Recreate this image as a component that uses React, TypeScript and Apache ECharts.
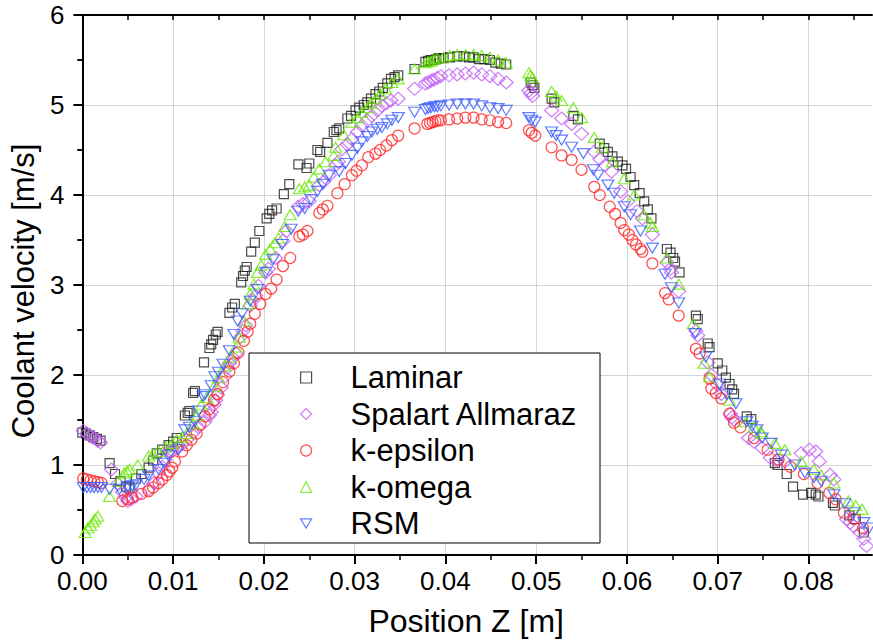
import React, { useEffect, useRef } from "react";
import * as echarts from "echarts";

// ---------- data (Position Z [m], Coolant velocity [m/s]) ----------
const seriesNames = ["Laminar", "Spalart Allmaraz", "k-epsilon", "k-omega", "RSM"];

const laminar: number[][] = [
  [0.0000,1.36],[0.0004,1.35],[0.0008,1.33],[0.0012,1.31],[0.0016,1.29],[0.0020,1.27],
  [0.0030,1.02],[0.0036,0.90],[0.0042,0.82],[0.0048,0.76],[0.0052,0.74],[0.0059,0.85],[0.0065,0.90],
  [0.0073,0.97],[0.0078,1.05],[0.0082,1.13],[0.0088,1.17],[0.0095,1.22],[0.0100,1.26],[0.0104,1.30],
  [0.0113,1.55],[0.0116,1.58],[0.0118,1.60],[0.0122,1.80],[0.0124,1.82],
  [0.0134,2.14],[0.0140,2.30],[0.0142,2.34],[0.0144,2.39],[0.0147,2.45],[0.0149,2.48],
  [0.0162,2.69],[0.0165,2.75],[0.0168,2.79],
  [0.0175,3.03],[0.0177,3.10],[0.0179,3.16],[0.0181,3.20],
  [0.0186,3.37],[0.0190,3.47],[0.0195,3.60],
  [0.0203,3.74],[0.0206,3.79],[0.0209,3.83],
  [0.0214,3.85],[0.0222,4.01],[0.0228,4.12],
  [0.0238,4.34],[0.0247,4.30],[0.0250,4.35],
  [0.0259,4.50],[0.0262,4.48],
  [0.0270,4.58],[0.0277,4.70],[0.0280,4.72],[0.0283,4.74],
  [0.0292,4.85],[0.0296,4.88],[0.0301,4.94],[0.0305,4.97],[0.0310,5.00],[0.0314,5.03],[0.0318,5.07],
  [0.0323,5.12],[0.0327,5.15],[0.0331,5.19],[0.0336,5.24],[0.0340,5.29],[0.0344,5.31],[0.0348,5.33],
  [0.0366,5.40],
  [0.0378,5.48],[0.0381,5.49],[0.0384,5.50],[0.0387,5.50],[0.0390,5.51],[0.0393,5.52],[0.0398,5.52],
  [0.0405,5.53],[0.0413,5.54],[0.0420,5.54],[0.0426,5.53],[0.0431,5.53],[0.0437,5.51],[0.0443,5.51],
  [0.0449,5.50],[0.0455,5.47],[0.0461,5.46],[0.0467,5.45],
  [0.0494,5.25],[0.0496,5.22],[0.0498,5.19],
  [0.0517,5.07],[0.0520,5.03],
  [0.0541,4.88],[0.0546,4.84],
  [0.0570,4.57],[0.0575,4.52],[0.0579,4.48],[0.0584,4.43],[0.0590,4.37],[0.0595,4.33],[0.0599,4.29],
  [0.0604,4.20],[0.0608,4.11],[0.0614,4.02],[0.0619,3.93],[0.0623,3.84],[0.0627,3.74],
  [0.0644,3.40],[0.0648,3.36],[0.0651,3.30],[0.0653,3.26],[0.0658,3.14],
  [0.0676,2.66],[0.0678,2.62],
  [0.0689,2.35],[0.0691,2.31],
  [0.0700,2.13],[0.0705,2.05],[0.0709,1.97],[0.0713,1.90],[0.0716,1.84],[0.0718,1.79],
  [0.0732,1.54],[0.0737,1.51],
  [0.0763,1.02],[0.0766,1.00],[0.0776,0.90],[0.0783,0.76],[0.0794,0.67],[0.0803,0.69],[0.0808,0.67],
  [0.0811,0.65],[0.0827,0.58],[0.0829,0.55],
  [0.0845,0.44],[0.0852,0.40],[0.0861,0.25],
];

const spalartAllmaraz: number[][] = [
  [0.0001,1.38],[0.0005,1.35],[0.0009,1.32],[0.0013,1.30],[0.0017,1.27],[0.0020,1.25],
  [0.0032,0.95],[0.0039,0.79],[0.0044,0.70],[0.0048,0.64],[0.0050,0.60],[0.0054,0.62],[0.0059,0.65],
  [0.0073,0.73],[0.0079,0.80],[0.0084,0.91],[0.0088,0.98],[0.0091,1.06],[0.0095,1.15],[0.0099,1.16],
  [0.0104,1.19],[0.0110,1.23],[0.0115,1.28],[0.0122,1.36],[0.0128,1.42],[0.0135,1.48],[0.0140,1.55],
  [0.0142,1.59],[0.0145,1.67],[0.0147,1.72],[0.0149,1.78],[0.0153,1.86],[0.0157,1.98],[0.0160,2.08],
  [0.0162,2.13],[0.0166,2.19],[0.0169,2.24],[0.0174,2.42],[0.0177,2.49],[0.0180,2.55],[0.0185,2.77],
  [0.0188,2.83],[0.0191,2.88],[0.0194,2.99],[0.0202,3.14],[0.0205,3.18],[0.0213,3.30],[0.0221,3.49],
  [0.0225,3.60],[0.0238,3.87],[0.0243,3.90],[0.0250,3.93],[0.0261,4.11],[0.0266,4.15],[0.0272,4.22],
  [0.0279,4.33],[0.0282,4.37],[0.0286,4.51],[0.0292,4.56],[0.0297,4.62],[0.0303,4.70],[0.0308,4.77],
  [0.0314,4.83],[0.0319,4.88],[0.0325,4.94],[0.0330,4.99],[0.0335,5.02],[0.0340,5.05],[0.0348,5.07],
  [0.0366,5.18],[0.0378,5.24],[0.0381,5.25],[0.0384,5.27],[0.0387,5.28],[0.0391,5.30],[0.0395,5.32],
  [0.0404,5.33],[0.0413,5.34],[0.0422,5.35],[0.0431,5.36],[0.0440,5.34],[0.0449,5.32],[0.0458,5.29],
  [0.0467,5.25],
  [0.0492,5.16],[0.0494,5.13],[0.0496,5.10],
  [0.0517,4.94],[0.0528,4.85],[0.0539,4.79],[0.0550,4.68],[0.0564,4.48],[0.0570,4.40],[0.0576,4.33],
  [0.0583,4.26],[0.0593,4.04],[0.0601,3.93],[0.0611,3.82],[0.0617,3.74],[0.0628,3.56],[0.0644,3.25],
  [0.0648,3.18],[0.0649,3.14],[0.0657,2.93],[0.0676,2.49],[0.0678,2.44],[0.0689,2.14],[0.0693,2.00],
  [0.0700,1.89],[0.0704,1.79],[0.0714,1.57],[0.0716,1.53],[0.0718,1.50],[0.0734,1.30],[0.0740,1.26],
  [0.0749,1.19],[0.0758,1.08],[0.0765,1.05],[0.0774,1.04],[0.0792,1.13],[0.0801,1.17],[0.0808,1.15],
  [0.0812,1.04],[0.0824,0.89],[0.0828,0.84],[0.0842,0.40],[0.0846,0.36],[0.0850,0.32],[0.0857,0.25],
  [0.0861,0.18],[0.0864,0.10],
];

const kEpsilon: number[][] = [
  [0.0001,0.85],[0.0005,0.84],[0.0009,0.83],[0.0013,0.82],[0.0017,0.81],[0.0021,0.80],
  [0.0044,0.60],[0.0050,0.62],[0.0055,0.64],[0.0065,0.68],[0.0073,0.71],[0.0078,0.75],[0.0084,0.80],
  [0.0088,0.84],[0.0093,0.89],[0.0096,0.93],[0.0099,0.97],[0.0102,1.04],[0.0110,1.15],[0.0115,1.22],
  [0.0120,1.28],[0.0126,1.35],[0.0130,1.45],[0.0135,1.54],[0.0140,1.62],[0.0145,1.72],[0.0149,1.79],
  [0.0155,1.92],[0.0162,2.04],[0.0167,2.13],[0.0172,2.25],[0.0178,2.38],[0.0182,2.48],[0.0185,2.57],
  [0.0190,2.68],[0.0196,2.79],[0.0202,2.90],[0.0208,2.96],[0.0214,3.06],[0.0221,3.21],[0.0229,3.30],
  [0.0239,3.54],[0.0243,3.56],[0.0248,3.60],[0.0261,3.80],[0.0265,3.84],[0.0270,3.88],[0.0281,4.02],
  [0.0289,4.12],[0.0297,4.22],[0.0302,4.27],[0.0308,4.33],[0.0315,4.42],[0.0323,4.46],[0.0328,4.50],
  [0.0335,4.55],[0.0341,4.61],[0.0348,4.66],[0.0366,4.74],[0.0380,4.79],[0.0383,4.80],[0.0386,4.81],
  [0.0389,4.82],[0.0392,4.83],[0.0395,4.83],[0.0404,4.84],[0.0413,4.85],[0.0422,4.86],[0.0431,4.86],
  [0.0440,4.84],[0.0449,4.83],[0.0458,4.81],[0.0467,4.80],
  [0.0492,4.72],[0.0495,4.69],[0.0499,4.66],
  [0.0517,4.53],[0.0528,4.44],[0.0539,4.39],[0.0550,4.28],[0.0564,4.09],[0.0570,4.00],[0.0581,3.87],
  [0.0587,3.79],[0.0593,3.69],[0.0597,3.61],[0.0602,3.56],[0.0606,3.50],[0.0610,3.45],[0.0615,3.40],
  [0.0617,3.37],[0.0628,3.24],[0.0642,2.91],[0.0646,2.84],[0.0657,2.66],[0.0676,2.29],[0.0680,2.24],
  [0.0691,1.96],[0.0693,1.85],[0.0698,1.80],[0.0704,1.74],[0.0713,1.57],[0.0718,1.47],[0.0725,1.42],
  [0.0740,1.30],[0.0755,1.17],[0.0767,1.06],[0.0780,0.98],[0.0795,0.90],[0.0810,0.80],[0.0823,0.69],
  [0.0830,0.62],[0.0839,0.47],[0.0850,0.40],[0.0860,0.30],
];

const kOmega: number[][] = [
  [0.0003,0.25],[0.0006,0.30],[0.0009,0.33],[0.0012,0.37],[0.0014,0.40],[0.0017,0.43],
  [0.0030,0.65],[0.0040,0.82],[0.0046,0.91],[0.0049,0.93],[0.0052,0.95],[0.0061,1.00],[0.0073,1.10],
  [0.0078,1.12],[0.0084,1.15],[0.0092,1.20],[0.0099,1.24],[0.0104,1.28],[0.0110,1.31],[0.0115,1.35],
  [0.0122,1.46],[0.0126,1.55],[0.0131,1.67],[0.0137,1.75],[0.0145,1.87],[0.0150,1.97],[0.0157,2.10],
  [0.0163,2.20],[0.0169,2.31],[0.0173,2.42],[0.0178,2.60],[0.0182,2.79],[0.0185,2.90],[0.0189,3.01],
  [0.0193,3.14],[0.0197,3.22],[0.0202,3.34],[0.0207,3.40],[0.0212,3.47],[0.0216,3.52],[0.0223,3.65],
  [0.0229,3.78],[0.0239,4.07],[0.0245,4.09],[0.0250,4.11],[0.0255,4.20],[0.0261,4.29],[0.0268,4.37],
  [0.0277,4.44],[0.0279,4.53],[0.0288,4.67],[0.0297,4.81],[0.0303,4.86],[0.0308,4.92],[0.0314,4.97],
  [0.0318,5.02],[0.0323,5.07],[0.0328,5.12],[0.0334,5.18],[0.0341,5.25],[0.0348,5.29],[0.0366,5.40],
  [0.0378,5.47],[0.0381,5.48],[0.0384,5.49],[0.0387,5.51],[0.0391,5.52],[0.0398,5.53],[0.0405,5.55],
  [0.0413,5.56],[0.0422,5.56],[0.0431,5.56],[0.0440,5.55],[0.0449,5.53],[0.0458,5.50],[0.0467,5.47],
  [0.0492,5.36],[0.0494,5.33],[0.0496,5.30],
  [0.0517,5.15],[0.0522,5.10],[0.0528,5.05],[0.0541,4.97],[0.0550,4.86],[0.0564,4.64],[0.0573,4.53],
  [0.0584,4.37],[0.0597,4.18],[0.0608,4.00],[0.0619,3.78],[0.0626,3.69],[0.0628,3.65],[0.0644,3.30],
  [0.0657,3.01],[0.0673,2.57],[0.0685,2.13],[0.0691,1.98],[0.0713,1.72],[0.0731,1.48],[0.0740,1.42],
  [0.0747,1.37],[0.0749,1.35],[0.0763,1.24],[0.0774,1.17],[0.0792,1.04],[0.0806,0.95],[0.0814,0.89],
  [0.0828,0.80],[0.0844,0.60],[0.0852,0.55],[0.0859,0.51],
];

const rsm: number[][] = [
  [0.0001,0.75],[0.0005,0.75],[0.0009,0.75],[0.0013,0.75],[0.0017,0.75],[0.0021,0.75],
  [0.0030,0.73],[0.0041,0.73],[0.0050,0.76],[0.0055,0.77],[0.0059,0.78],[0.0068,0.84],[0.0073,0.88],
  [0.0084,0.95],[0.0090,1.02],[0.0095,1.10],[0.0106,1.17],[0.0113,1.39],[0.0118,1.42],[0.0124,1.48],
  [0.0128,1.60],[0.0133,1.76],[0.0135,1.78],[0.0142,1.88],[0.0146,1.98],[0.0150,2.03],[0.0155,2.12],
  [0.0162,2.27],[0.0167,2.45],[0.0171,2.60],[0.0176,2.68],[0.0185,2.82],[0.0193,2.95],[0.0202,3.14],
  [0.0210,3.28],[0.0220,3.45],[0.0230,3.62],[0.0238,3.82],[0.0245,3.85],[0.0252,3.95],[0.0259,4.04],
  [0.0265,4.12],[0.0272,4.22],[0.0283,4.26],[0.0290,4.35],[0.0297,4.44],[0.0303,4.52],[0.0308,4.59],
  [0.0314,4.65],[0.0319,4.70],[0.0325,4.73],[0.0330,4.75],[0.0336,4.79],[0.0341,4.83],[0.0348,4.86],
  [0.0366,4.92],[0.0378,4.95],[0.0381,4.96],[0.0384,4.97],[0.0388,4.98],[0.0391,4.98],[0.0395,4.99],
  [0.0404,5.00],[0.0413,5.01],[0.0422,5.01],[0.0431,5.01],[0.0440,4.99],[0.0449,4.97],[0.0458,4.96],
  [0.0467,4.94],
  [0.0492,4.86],[0.0495,4.83],[0.0499,4.81],
  [0.0517,4.70],[0.0522,4.66],[0.0528,4.61],[0.0539,4.53],[0.0552,4.46],[0.0563,4.28],[0.0568,4.22],
  [0.0579,4.11],[0.0586,4.02],[0.0597,3.87],[0.0604,3.78],[0.0615,3.60],[0.0628,3.41],[0.0642,3.12],
  [0.0649,2.97],[0.0657,2.80],[0.0675,2.46],[0.0687,2.20],[0.0702,1.90],[0.0710,1.78],[0.0720,1.68],
  [0.0732,1.48],[0.0738,1.43],[0.0743,1.39],[0.0749,1.30],[0.0759,1.24],[0.0770,1.11],[0.0785,1.00],
  [0.0796,0.91],[0.0806,0.86],[0.0814,0.82],[0.0828,0.67],[0.0840,0.57],[0.0850,0.47],[0.0861,0.36],
  [0.0867,0.30],
];

const xMajorTicks = [0, 0.01, 0.02, 0.03, 0.04, 0.05, 0.06, 0.07, 0.08];
const xMinorTicks = [0.005, 0.015, 0.025, 0.035, 0.045, 0.055, 0.065, 0.075, 0.085];
const xMax = 0.087;
const yMax = 6;

const FONT = "'Liberation Sans', Arial, sans-serif";
const DOWN_TRIANGLE = "path://M0,0L12,0L6,10Z";

export default function App() {
  const ref = useRef<HTMLDivElement>(null);

  useEffect(() => {
    if (!ref.current) return;
    const chart = echarts.init(ref.current, null, { renderer: "svg" });

    const mk = (
      name: string,
      data: number[][],
      symbol: string,
      size: number | number[],
      color: string
    ) => ({
      type: "scatter",
      name,
      data,
      symbol,
      symbolSize: size,
      xAxisIndex: 0,
      yAxisIndex: 0,
      clip: false,
      itemStyle: { color: "rgba(0,0,0,0)", borderColor: color, borderWidth: 1.2 },
      emphasis: { disabled: true },
    });

    const axisLine = { show: true, lineStyle: { color: "#000", width: 2 } };
    const noLine = { show: false };

    chart.setOption({
      animation: false,
      backgroundColor: "#fff",
      textStyle: { fontFamily: FONT },
      grid: { left: 69, right: 1, top: 15, bottom: 86, containLabel: false },
      legend: {
        orient: "vertical",
        left: 249,
        top: 353,
        data: seriesNames,
        itemGap: 5.5,
        itemWidth: 11,
        itemHeight: 11,
        padding: [9, 22, 4, 51],
        backgroundColor: "#fff",
        borderColor: "#000",
        borderWidth: 1,
        borderRadius: 0,
        selectedMode: false,
        itemStyle: { borderWidth: 1.2 },
        textStyle: { fontSize: 31, color: "#000", fontFamily: FONT, padding: [0, 0, 0, 34] },
      },
      xAxis: [
        {
          type: "value",
          position: "bottom",
          min: 0,
          max: xMax,
          interval: 0.01,
          name: "Position Z [m]",
          nameLocation: "middle",
          nameGap: 50,
          nameTextStyle: { fontSize: 32, color: "#000", fontFamily: FONT, padding: [0, 22, 0, 0] },
          axisLine,
          axisTick: {
            show: true,
            inside: false,
            length: 9,
            customValues: xMajorTicks,
            lineStyle: { color: "#000", width: 2 },
          },
          minorTick: { show: false },
          axisLabel: {
            customValues: xMajorTicks,
            margin: 13,
            fontSize: 26,
            color: "#000",
            fontFamily: FONT,
            formatter: (v: number) => v.toFixed(2),
          },
          splitLine: { show: true, lineStyle: { color: "#d2d6d6", width: 1 } },
        },
        {
          type: "value",
          position: "bottom",
          min: 0,
          max: xMax,
          interval: 0.01,
          axisLine: noLine,
          axisTick: {
            show: true,
            inside: false,
            length: 5,
            customValues: xMinorTicks,
            lineStyle: { color: "#000", width: 1.5 },
          },
          axisLabel: { show: false },
          splitLine: { show: false },
        },
        {
          type: "value",
          position: "top",
          min: 0,
          max: xMax,
          interval: 0.01,
          axisLine,
          axisTick: {
            show: true,
            inside: true,
            length: 5,
            customValues: [...xMajorTicks, ...xMinorTicks],
            lineStyle: { color: "#000", width: 1.5 },
          },
          axisLabel: { show: false },
          splitLine: { show: false },
        },
      ],
      yAxis: [
        {
          type: "value",
          position: "left",
          min: 0,
          max: yMax,
          interval: 1,
          name: "Coolant velocity [m/s]",
          nameLocation: "middle",
          nameGap: 35,
          nameTextStyle: { fontSize: 31, color: "#000", fontFamily: FONT, padding: [0, 12, 0, 0] },
          axisLine,
          axisTick: { show: true, inside: false, length: 9, lineStyle: { color: "#000", width: 2 } },
          minorTick: { show: true, splitNumber: 2, length: 5, lineStyle: { color: "#000", width: 1.5 } },
          axisLabel: { margin: 18, fontSize: 26, lineHeight: 20, color: "#000", fontFamily: FONT },
          splitLine: { show: true, lineStyle: { color: "#d2d6d6", width: 1 } },
        },
        {
          type: "value",
          position: "right",
          min: 0,
          max: yMax,
          interval: 0.5,
          axisLine,
          axisTick: { show: true, inside: true, length: 5, lineStyle: { color: "#000", width: 1.5 } },
          axisLabel: { show: false },
          splitLine: { show: false },
        },
      ],
      series: [
        mk(seriesNames[0], laminar, "rect", 9, "#1e1e1e"),
        mk(seriesNames[1], spalartAllmaraz, "diamond", [14, 13], "#c05cf2"),
        mk(seriesNames[2], kEpsilon, "circle", 11, "#ff2424"),
        mk(seriesNames[3], kOmega, "triangle", [12, 10], "#66ea00"),
        mk(seriesNames[4], rsm, DOWN_TRIANGLE, [12, 10], "#3a5cff"),
      ],
    });

    return () => chart.dispose();
  }, []);

  return (
    <div
      ref={ref}
      style={{ position: "absolute", left: 0, top: 0, width: 873, height: 642, background: "#fff" }}
    />
  );
}
